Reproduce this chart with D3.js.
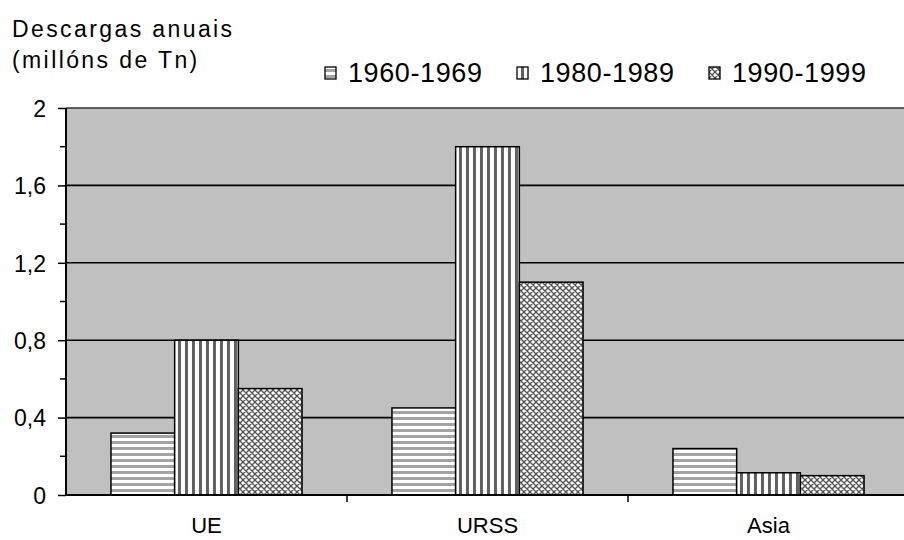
<!DOCTYPE html>
<html>
<head>
<meta charset="utf-8">
<script src="https://cdn.jsdelivr.net/npm/d3@7"></script>
<style>
  body { margin: 0; background: #fff; }
  text { font-family: "Liberation Sans", Arial, sans-serif; fill: #000; }
</style>
</head>
<body>
<div class="chart"></div>
<script>
// Data
var categories = ["UE", "URSS", "Asia"];
var seriesNames = ["1960-1969", "1980-1989", "1990-1999"];
var values1960 = [0.32, 0.45, 0.24];
var values1980 = [0.8, 1.8, 0.115];
var values1990 = [0.55, 1.1, 0.1];
var yTicks = [0, 0.4, 0.8, 1.2, 1.6, 2];
var yMinorTicks = [0.2, 0.6, 1.0, 1.4, 1.8];
var titleLines = ["Descargas anuais", "(millóns de Tn)"];

// Layout
var width = 904,
  height = 540,
  plotLeft = 66,
  plotRight = 909,
  plotTop = 108,
  plotBottom = 495;

var seriesValues = [values1960, values1980, values1990];
var patternIds = ["p1960", "p1980", "p1990"];

var svg = d3.select(".chart").append("svg")
  .attr("width", width)
  .attr("height", height);

// Fill patterns
var defs = svg.append("defs");

var p1 = defs.append("pattern").attr("id", "p1960")
  .attr("patternUnits", "userSpaceOnUse").attr("width", 6).attr("height", 6);
p1.append("rect").attr("width", 6).attr("height", 6).attr("fill", "#fff");
p1.append("rect").attr("y", 3).attr("width", 6).attr("height", 3).attr("fill", "#a4a4a4");

var p2 = defs.append("pattern").attr("id", "p1980")
  .attr("patternUnits", "userSpaceOnUse").attr("width", 7).attr("height", 7);
p2.append("rect").attr("width", 7).attr("height", 7).attr("fill", "#fff");
p2.append("rect").attr("x", 4).attr("width", 3).attr("height", 7).attr("fill", "#606060");

var p3 = defs.append("pattern").attr("id", "p1990")
  .attr("patternUnits", "userSpaceOnUse").attr("width", 6).attr("height", 6);
p3.append("rect").attr("width", 6).attr("height", 6).attr("fill", "#fff");
p3.append("path").attr("d", "M0,0L6,6M6,0L0,6M-1,5L1,7M5,-1L7,1M-1,1L1,-1M5,7L7,5")
  .attr("stroke", "#505050").attr("stroke-width", 1.3);

// Scales
var x0 = d3.scaleBand()
  .domain(categories)
  .range([plotLeft, plotRight])
  .paddingInner(0.32)
  .paddingOuter(0.16);

var x1 = d3.scaleBand()
  .domain(seriesNames)
  .range([0, x0.bandwidth()]);

var y = d3.scaleLinear()
  .domain([0, 2])
  .range([plotBottom, plotTop]);

// Plot area
svg.append("rect")
  .attr("x", plotLeft)
  .attr("y", y(2))
  .attr("width", plotRight - plotLeft)
  .attr("height", y(0) - y(2))
  .attr("fill", "#c0c0c0");

// Gridlines
svg.append("g").selectAll("line")
  .data(yTicks.filter(function(d) { return d > 0; }))
  .enter().append("line")
  .attr("x1", plotLeft).attr("x2", plotRight)
  .attr("y1", function(d) { return y(d); })
  .attr("y2", function(d) { return y(d); })
  .attr("stroke", function(d) { return d === 2 ? "#303030" : "#000"; })
  .attr("stroke-width", 1.6);

// Bars
var groups = svg.append("g").selectAll("g")
  .data(categories)
  .enter().append("g")
  .attr("transform", function(d) { return "translate(" + x0(d) + ",0)"; });

groups.selectAll("rect")
  .data(function(c, ci) {
    return seriesNames.map(function(s, si) {
      return { series: s, index: si, value: seriesValues[si][ci] };
    });
  })
  .enter().append("rect")
  .attr("x", function(d) { return x1(d.series); })
  .attr("y", function(d) { return y(d.value); })
  .attr("width", x1.bandwidth())
  .attr("height", function(d) { return y(0) - y(d.value); })
  .attr("fill", function(d) { return "url(#" + patternIds[d.index] + ")"; })
  .attr("stroke", "#000")
  .attr("stroke-width", 1.5);

// Y axis
var yAxis = d3.axisLeft(y)
  .tickValues(yTicks)
  .tickSize(8)
  .tickPadding(12)
  .tickFormat(function(d) { return d3.format(".1f")(d).replace(".", ",").replace(",0", ""); });

var yAxisG = svg.append("g")
  .attr("transform", "translate(" + plotLeft + ",0)")
  .call(yAxis);
yAxisG.select(".domain").attr("stroke", "#000").attr("stroke-width", 2)
  .attr("d", "M0," + plotTop + "V" + plotBottom);
yAxisG.selectAll(".tick line").attr("stroke", "#000").attr("stroke-width", 1.5);
yAxisG.selectAll(".tick text")
  .style("font-family", '"Liberation Sans", Arial, sans-serif')
  .style("font-size", "23px")
  .attr("fill", "#000")
  .attr("dy", "0.36em");

svg.append("g").selectAll("line")
  .data(yMinorTicks)
  .enter().append("line")
  .attr("x1", plotLeft - 6).attr("x2", plotLeft)
  .attr("y1", function(d) { return y(d); })
  .attr("y2", function(d) { return y(d); })
  .attr("stroke", "#000").attr("stroke-width", 1.5);

// X axis line and separators
svg.append("line")
  .attr("x1", plotLeft).attr("x2", plotRight)
  .attr("y1", y(0)).attr("y2", y(0))
  .attr("stroke", "#000").attr("stroke-width", 2);

svg.append("g").selectAll("line")
  .data(categories.slice(1))
  .enter().append("line")
  .attr("x1", function(d) { return x0(d) - x0.step() * x0.paddingInner() / 2; })
  .attr("x2", function(d) { return x0(d) - x0.step() * x0.paddingInner() / 2; })
  .attr("y1", y(0)).attr("y2", y(0) + 7)
  .attr("stroke", "#000").attr("stroke-width", 1.5);

svg.append("g").selectAll("text")
  .data(categories)
  .enter().append("text")
  .attr("x", function(d) { return x0(d) + x0.bandwidth() / 2; })
  .attr("y", 533)
  .attr("text-anchor", "middle")
  .style("font-size", "22px")
  .text(function(d) { return d; });

// Title
svg.append("g").selectAll("text")
  .data(titleLines)
  .enter().append("text")
  .attr("x", 12)
  .attr("y", function(d, i) { return 37 + i * 31; })
  .style("font-size", "23px")
  .style("letter-spacing", "2.4px")
  .text(function(d) { return d; });

// Legend
var legend = svg.append("g").selectAll("g")
  .data(seriesNames)
  .enter().append("g")
  .attr("transform", function(d, i) { return "translate(" + (325 + i * 192) + ",0)"; });

legend.append("rect")
  .attr("x", 0).attr("y", 67)
  .attr("width", 11).attr("height", 12)
  .attr("fill", function(d, i) { return "url(#" + patternIds[i] + ")"; })
  .attr("stroke", "#000").attr("stroke-width", 1.3);

legend.append("text")
  .attr("x", 23)
  .attr("y", 82)
  .style("font-size", "27px")
  .style("letter-spacing", "0.6px")
  .text(function(d) { return d; });
</script>
</body>
</html>
